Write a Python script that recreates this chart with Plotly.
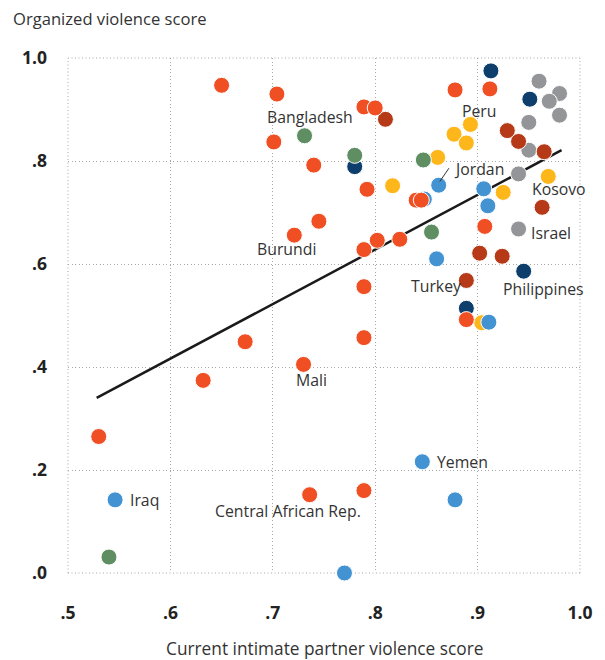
import plotly.graph_objects as go

# Country scores by group: current intimate partner violence (x) vs organized violence (y)
yellow_x = [0.817, 0.861, 0.893, 0.877, 0.889, 0.925, 0.969, 0.904]
yellow_y = [0.752, 0.807, 0.871, 0.852, 0.835, 0.739, 0.770, 0.486]

lightblue_x = [0.862, 0.848, 0.906, 0.910, 0.860, 0.911, 0.546, 0.846, 0.878, 0.770]
lightblue_y = [0.753, 0.726, 0.746, 0.713, 0.610, 0.487, 0.142, 0.216, 0.142, 0.000]

navy_x = [0.913, 0.951, 0.780, 0.945, 0.889]
navy_y = [0.975, 0.920, 0.789, 0.586, 0.514]

green_x = [0.731, 0.780, 0.847, 0.855, 0.540]
green_y = [0.849, 0.811, 0.802, 0.662, 0.031]

grey_x = [0.960, 0.980, 0.970, 0.980, 0.950, 0.950, 0.940, 0.940]
grey_y = [0.955, 0.931, 0.916, 0.889, 0.875, 0.821, 0.775, 0.668]

darkred_x = [0.810, 0.929, 0.940, 0.965, 0.963, 0.902, 0.924, 0.889]
darkred_y = [0.881, 0.859, 0.838, 0.818, 0.710, 0.621, 0.615, 0.568]

orange_x = [0.650, 0.704, 0.701, 0.740, 0.789, 0.800, 0.792, 0.745, 0.721,
            0.802, 0.824, 0.789, 0.789, 0.789, 0.673, 0.632, 0.730, 0.530,
            0.736, 0.789, 0.878, 0.912, 0.840, 0.845, 0.907, 0.889]
orange_y = [0.947, 0.930, 0.837, 0.792, 0.905, 0.903, 0.745, 0.683, 0.656,
            0.646, 0.648, 0.628, 0.556, 0.457, 0.449, 0.374, 0.405, 0.265,
            0.152, 0.160, 0.938, 0.940, 0.724, 0.724, 0.673, 0.492]

# Fitted trend line endpoints
trend_x = [0.528, 0.982]
trend_y = [0.340, 0.821]

x_ticks = [0.5, 0.6, 0.7, 0.8, 0.9, 1.0]
x_tick_labels = [".5", ".6", ".7", ".8", ".9", "1.0"]
y_ticks = [0.0, 0.2, 0.4, 0.6, 0.8, 1.0]
y_tick_labels = [".0", ".2", ".4", ".6", ".8", "1.0"]

# Country labels: (text, x, y, anchor)
country_labels = [
    ("Bangladesh", 0.736, 0.885, "center"),
    ("Peru", 0.902, 0.898, "center"),
    ("Jordan", 0.901, 0.785, "center"),
    ("Kosovo", 0.979, 0.746, "center"),
    ("Israel", 0.972, 0.661, "center"),
    ("Burundi", 0.713, 0.630, "center"),
    ("Turkey", 0.859, 0.557, "center"),
    ("Philippines", 0.964, 0.552, "center"),
    ("Mali", 0.738, 0.374, "center"),
    ("Yemen", 0.858, 0.216, "left"),
    ("Iraq", 0.559, 0.142, "left"),
    ("Central African Rep.", 0.715, 0.120, "center"),
]

palette = {
    "yellow": "#FDB71A",
    "lightblue": "#4393D3",
    "navy": "#0E3F6C",
    "green": "#5E8E62",
    "grey": "#939598",
    "darkred": "#B73A18",
    "orange": "#F04E23",
}

FONT = "Open Sans, sans-serif"
DOTS = "1px,2.5px"
GRID_COLOR = "#a8a8a8"

fig = go.Figure()

fig.add_trace(go.Scatter(
    x=trend_x, y=trend_y, mode="lines",
    line=dict(color="#1a1a1a", width=2.5),
    hoverinfo="skip", showlegend=False,
))

groups = [
    ("yellow", yellow_x, yellow_y),
    ("lightblue", lightblue_x, lightblue_y),
    ("navy", navy_x, navy_y),
    ("green", green_x, green_y),
    ("grey", grey_x, grey_y),
    ("darkred", darkred_x, darkred_y),
    ("orange", orange_x, orange_y),
]
for name, gx, gy in groups:
    fig.add_trace(go.Scatter(
        x=gx, y=gy, mode="markers", name=name,
        marker=dict(size=16, color=palette[name],
                    line=dict(color="white", width=1)),
        cliponaxis=False, showlegend=False,
    ))

label_font = dict(family=FONT, size=15.8, color="#333333")
for text, lx, ly, anchor in country_labels:
    fig.add_annotation(
        x=lx, y=ly, text=text, showarrow=False, xanchor=anchor,
        yanchor="middle", font=label_font,
    )

# Leader line for Jordan
fig.add_shape(type="line", x0=0.872, y0=0.786, x1=0.863, y1=0.760,
              line=dict(color="#333333", width=1))

# Dotted frame around the plotting area
for x0, y0, x1, y1 in [(0, 0, 1, 0), (0, 1, 1, 1), (0, 0, 0, 1), (1, 0, 1, 1)]:
    fig.add_shape(type="line", xref="paper", yref="paper",
                  x0=x0, y0=y0, x1=x1, y1=y1, layer="below",
                  line=dict(color=GRID_COLOR, width=1, dash=DOTS))

fig.add_annotation(
    xref="paper", yref="paper", x=0, y=1, xshift=-57, yshift=40,
    text="Organized violence score", showarrow=False,
    xanchor="left", yanchor="middle",
    font=dict(family=FONT, size=16.6, color="#333333"),
)
fig.add_annotation(
    xref="paper", yref="paper", x=0.5, y=0, yshift=-75,
    text="Current intimate partner violence score", showarrow=False,
    xanchor="center", yanchor="middle",
    font=dict(family=FONT, size=17.3, color="#333333"),
)

grid = dict(showgrid=True, gridcolor=GRID_COLOR, griddash=DOTS, gridwidth=1,
            zeroline=False, showline=False, ticks="")
tick_font = dict(family=FONT, size=17.5, color="#222222", weight="bold")

fig.update_xaxes(range=[0.5, 1.0], tickvals=x_ticks, ticktext=x_tick_labels,
                 tickfont=tick_font, ticklabelstandoff=27, **grid)
fig.update_yaxes(range=[0.0, 1.0], tickvals=y_ticks, ticktext=y_tick_labels,
                 tickfont=tick_font, ticklabelstandoff=20, **grid)

fig.update_layout(
    width=605, height=660,
    margin=dict(l=68, r=21, t=58, b=87),
    plot_bgcolor="white", paper_bgcolor="white",
    showlegend=False,
)

fig.write_html("out.html")
